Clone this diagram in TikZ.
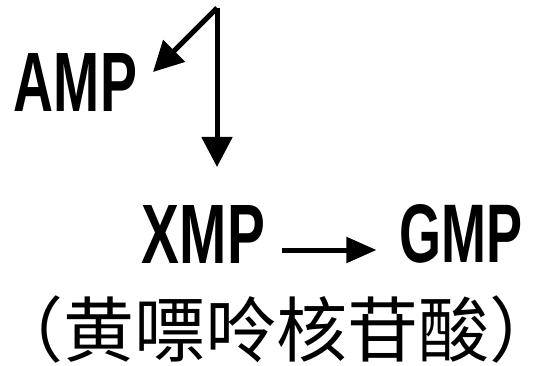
\documentclass[tikz,border=0pt]{standalone}
\usepackage{fontspec}
\usepackage{graphicx}
\setmainfont{Liberation Sans}
\newfontfamily\cjk{Noto Sans CJK SC}
\usetikzlibrary{arrows.meta}
\tikzset{
  lbl/.style={inner sep=0pt, outer sep=0pt},
  arr/.style={line width=5pt, -{Triangle[length=30pt,width=30pt]}},
  arrh/.style={line width=5pt, -{Triangle[length=30pt,width=25pt]}}
}
\newcommand{\lat}[1]{\resizebox{123pt}{58pt}{\bfseries #1}}
\begin{document}
\begin{tikzpicture}[x=1pt,y=1pt]
\useasboundingbox (0,0) rectangle (535,-366);
\node[lbl] (amp) at (75.5,-82) {\lat{AMP}};
\node[lbl] (xmp) at (203.5,-234) {\lat{XMP}};
\node[lbl] (gmp) at (461,-234) {\lat{GMP}};
\node[lbl, font=\cjk\fontsize{71pt}{76pt}\selectfont] (cn) at (276,-330) {\makebox[500pt][c]{（黄嘌呤核苷酸）}};
\coordinate (top) at (217,-8);
\coordinate (down) at (217,-167);
\draw[arr] (top) -- (down);
\draw[arr] (top) -- ([xshift=16pt,yshift=10pt]amp.east);
\draw[arrh] ([xshift=17pt,yshift=-16pt]xmp.east) -- ([xshift=-23pt,yshift=-16pt]gmp.west);
\end{tikzpicture}
\end{document}
